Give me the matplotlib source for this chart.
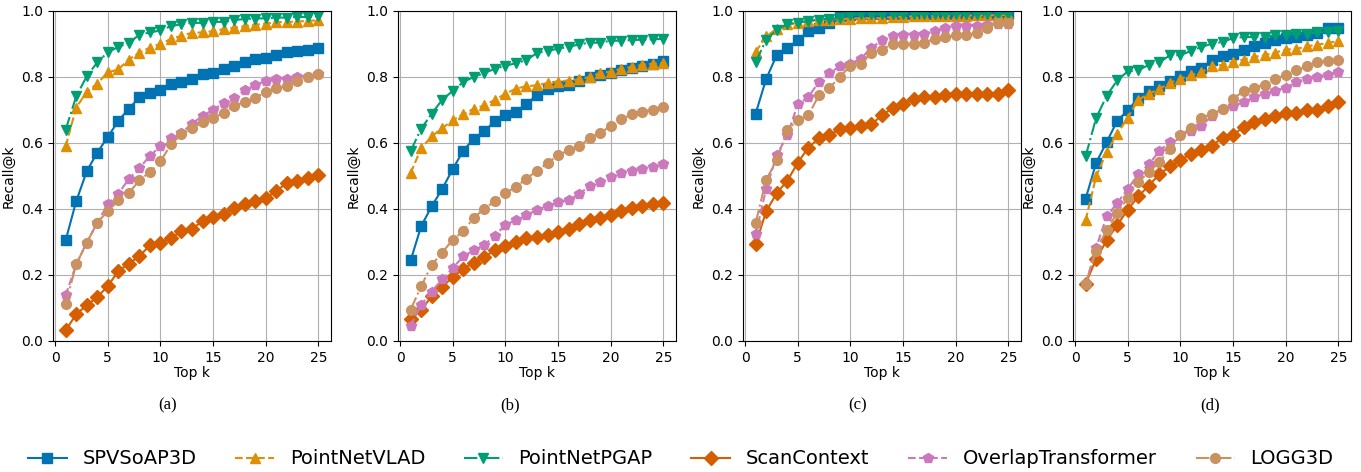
import numpy as np
import matplotlib
matplotlib.use("Agg")
import matplotlib.pyplot as plt

k = np.arange(1, 26)

methods = ["SPVSoAP3D", "PointNetVLAD", "PointNetPGAP", "ScanContext", "OverlapTransformer", "LOGG3D"]
colors = ["#0173b2", "#de8f05", "#029e73", "#d55e00", "#cc78bc", "#ca9161"]
markers = ["s", "^", "v", "D", "p", "o"]
styles = ["-", "--", "-.", "-", "--", "-."]

# (a)
a_spv = [0.305, 0.423, 0.514, 0.571, 0.618, 0.667, 0.704, 0.738, 0.752, 0.760, 0.780, 0.784, 0.794,
         0.808, 0.812, 0.825, 0.833, 0.845, 0.855, 0.859, 0.867, 0.876, 0.880, 0.882, 0.887]
a_vlad = [0.590, 0.707, 0.755, 0.780, 0.814, 0.823, 0.853, 0.874, 0.889, 0.901, 0.915, 0.925, 0.934,
          0.935, 0.939, 0.945, 0.949, 0.954, 0.958, 0.962, 0.966, 0.967, 0.968, 0.970, 0.972]
a_pgap = [0.640, 0.741, 0.802, 0.844, 0.875, 0.891, 0.903, 0.928, 0.935, 0.941, 0.954, 0.960, 0.964,
          0.964, 0.967, 0.967, 0.972, 0.976, 0.977, 0.978, 0.980, 0.980, 0.982, 0.982, 0.984]
a_sc = [0.032, 0.081, 0.108, 0.133, 0.166, 0.212, 0.234, 0.257, 0.290, 0.298, 0.312, 0.332, 0.340,
        0.363, 0.375, 0.385, 0.404, 0.414, 0.423, 0.432, 0.455, 0.478, 0.486, 0.494, 0.503]
a_ot = [0.138, 0.232, 0.298, 0.358, 0.414, 0.446, 0.491, 0.524, 0.561, 0.590, 0.614, 0.630, 0.659,
        0.682, 0.701, 0.721, 0.735, 0.760, 0.776, 0.788, 0.793, 0.794, 0.800, 0.800, 0.808]
a_logg = [0.111, 0.232, 0.297, 0.359, 0.393, 0.426, 0.448, 0.487, 0.512, 0.544, 0.596, 0.626, 0.645,
          0.663, 0.676, 0.692, 0.713, 0.724, 0.737, 0.754, 0.768, 0.772, 0.788, 0.800, 0.808]

# (b)
b_spv = [0.244, 0.348, 0.408, 0.461, 0.521, 0.577, 0.613, 0.635, 0.667, 0.684, 0.694, 0.719, 0.745,
         0.763, 0.773, 0.776, 0.788, 0.800, 0.806, 0.812, 0.821, 0.827, 0.834, 0.840, 0.847]
b_vlad = [0.509, 0.584, 0.620, 0.645, 0.669, 0.687, 0.704, 0.714, 0.731, 0.749, 0.765, 0.772, 0.775,
          0.782, 0.786, 0.789, 0.793, 0.800, 0.812, 0.816, 0.825, 0.830, 0.837, 0.840, 0.842]
b_pgap = [0.576, 0.643, 0.689, 0.731, 0.758, 0.785, 0.800, 0.812, 0.825, 0.834, 0.842, 0.851, 0.873,
          0.879, 0.886, 0.891, 0.899, 0.904, 0.904, 0.910, 0.910, 0.912, 0.913, 0.914, 0.916]
b_sc = [0.068, 0.095, 0.135, 0.164, 0.194, 0.219, 0.237, 0.255, 0.275, 0.288, 0.301, 0.311, 0.316,
        0.322, 0.331, 0.340, 0.355, 0.366, 0.373, 0.381, 0.393, 0.404, 0.410, 0.414, 0.419]
b_ot = [0.046, 0.110, 0.150, 0.187, 0.221, 0.257, 0.275, 0.292, 0.318, 0.353, 0.366, 0.381, 0.398,
        0.410, 0.420, 0.426, 0.446, 0.469, 0.483, 0.497, 0.508, 0.516, 0.522, 0.527, 0.537]
b_logg = [0.095, 0.166, 0.231, 0.268, 0.307, 0.333, 0.374, 0.400, 0.424, 0.448, 0.467, 0.492, 0.516,
          0.539, 0.563, 0.578, 0.590, 0.615, 0.631, 0.651, 0.672, 0.687, 0.695, 0.701, 0.709]

# (c)
c_spv = [0.689, 0.794, 0.866, 0.888, 0.911, 0.938, 0.948, 0.964, 0.984, 0.988, 0.990, 0.990, 0.990,
         0.990, 0.990, 0.990, 0.990, 0.990, 0.990, 0.990, 0.990, 0.990, 0.990, 0.990, 0.990]
c_vlad = [0.876, 0.923, 0.946, 0.960, 0.964, 0.970, 0.972, 0.974, 0.976, 0.977, 0.978, 0.978, 0.978,
          0.982, 0.983, 0.984, 0.984, 0.985, 0.985, 0.986, 0.986, 0.987, 0.987, 0.988, 0.988]
c_pgap = [0.845, 0.913, 0.943, 0.960, 0.964, 0.970, 0.974, 0.976, 0.978, 0.988, 0.990, 0.990, 0.990,
          0.990, 0.990, 0.991, 0.991, 0.991, 0.991, 0.991, 0.992, 0.992, 0.992, 0.992, 0.992]
c_sc = [0.293, 0.393, 0.448, 0.485, 0.540, 0.586, 0.614, 0.624, 0.641, 0.646, 0.651, 0.657, 0.684,
        0.706, 0.718, 0.734, 0.739, 0.738, 0.744, 0.749, 0.749, 0.749, 0.749, 0.749, 0.762]
c_ot = [0.323, 0.461, 0.563, 0.623, 0.717, 0.739, 0.785, 0.812, 0.832, 0.840, 0.856, 0.889, 0.911,
        0.923, 0.927, 0.927, 0.929, 0.939, 0.949, 0.955, 0.955, 0.955, 0.957, 0.960, 0.960]
c_logg = [0.358, 0.489, 0.547, 0.640, 0.669, 0.684, 0.744, 0.767, 0.800, 0.834, 0.840, 0.873, 0.883,
          0.901, 0.901, 0.901, 0.904, 0.916, 0.921, 0.926, 0.928, 0.933, 0.949, 0.964, 0.964]

# (d)
d_spv = [0.431, 0.540, 0.603, 0.667, 0.699, 0.736, 0.758, 0.772, 0.788, 0.802, 0.818, 0.827, 0.853,
         0.865, 0.871, 0.881, 0.893, 0.903, 0.911, 0.918, 0.921, 0.926, 0.933, 0.947, 0.947]
d_vlad = [0.366, 0.499, 0.573, 0.628, 0.677, 0.731, 0.749, 0.764, 0.782, 0.795, 0.805, 0.815, 0.832,
          0.837, 0.846, 0.853, 0.861, 0.866, 0.874, 0.883, 0.885, 0.893, 0.898, 0.903, 0.909]
d_pgap = [0.560, 0.676, 0.743, 0.790, 0.817, 0.820, 0.837, 0.844, 0.866, 0.866, 0.879, 0.891, 0.901,
          0.906, 0.918, 0.921, 0.921, 0.921, 0.926, 0.928, 0.931, 0.931, 0.935, 0.936, 0.939]
d_sc = [0.174, 0.248, 0.305, 0.351, 0.398, 0.438, 0.471, 0.505, 0.529, 0.547, 0.568, 0.578, 0.592,
        0.616, 0.625, 0.648, 0.663, 0.673, 0.683, 0.691, 0.691, 0.699, 0.699, 0.713, 0.725]
d_ot = [0.172, 0.283, 0.378, 0.418, 0.461, 0.505, 0.535, 0.576, 0.603, 0.623, 0.635, 0.652, 0.683,
        0.704, 0.711, 0.724, 0.739, 0.749, 0.758, 0.768, 0.784, 0.794, 0.800, 0.807, 0.816]
d_logg = [0.174, 0.273, 0.337, 0.388, 0.434, 0.482, 0.512, 0.542, 0.582, 0.623, 0.646, 0.677, 0.687,
          0.704, 0.733, 0.758, 0.768, 0.777, 0.795, 0.805, 0.820, 0.832, 0.845, 0.850, 0.853]

panels = [
    ("(a)", [a_spv, a_vlad, a_pgap, a_sc, a_ot, a_logg]),
    ("(b)", [b_spv, b_vlad, b_pgap, b_sc, b_ot, b_logg]),
    ("(c)", [c_spv, c_vlad, c_pgap, c_sc, c_ot, c_logg]),
    ("(d)", [d_spv, d_vlad, d_pgap, d_sc, d_ot, d_logg]),
]

W, H = 1361, 472
fig = plt.figure(figsize=(W / 100, H / 100), dpi=100)

ax_left = [53, 398, 743, 1073]
cap_x = [168, 510, 858, 1210]
ax_w, ax_top, ax_bot = 278, 11, 341

for i, (cap, series) in enumerate(panels):
    ax = fig.add_axes([ax_left[i] / W, (H - ax_bot) / H, ax_w / W, (ax_bot - ax_top) / H])
    for j, y in enumerate(series):
        ax.plot(k, y, linestyle=styles[j], marker=markers[j], color=colors[j],
                linewidth=1.5, markersize=7, label=methods[j])
    ax.set_ylim(0, 1.0)
    ax.set_xticks([0, 5, 10, 15, 20, 25])
    ax.set_yticks([0.0, 0.2, 0.4, 0.6, 0.8, 1.0])
    ax.grid(True)
    ax.set_xlabel("Top k", fontsize=10, labelpad=1)
    ax.set_ylabel("Recall@k", fontsize=10)
    ax.tick_params(labelsize=10)
    fig.text(cap_x[i] / W, (H - 405) / H, cap, ha="center", va="center",
             fontsize=12, family="Liberation Serif")
    if i == 0:
        handles, labels = ax.get_legend_handles_labels()

fig.legend(handles, labels, loc="center", bbox_to_anchor=(0.5, (H - 459) / H),
           ncol=6, frameon=False, fontsize=14)

fig.savefig("out.png", dpi=100)
